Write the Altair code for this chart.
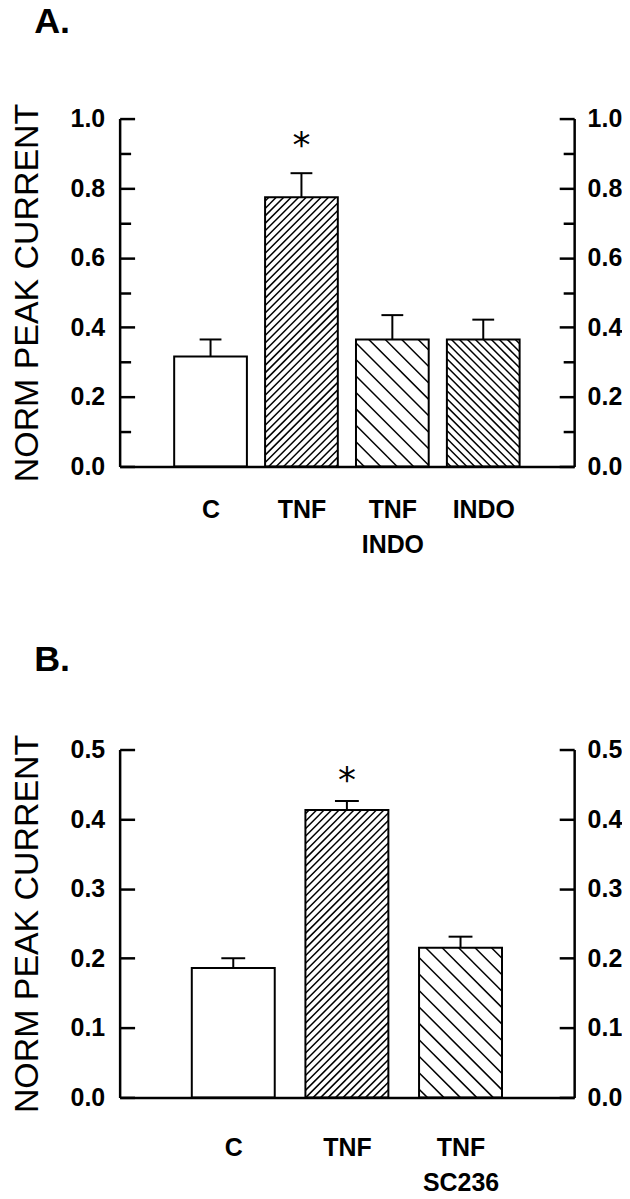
import json
import altair as alt
import pandas as pd

# ---------------- data ----------------
a_labels = ["C", "TNF", "TNF\nINDO", "INDO"]
a_values = [0.316, 0.774, 0.365, 0.365]
a_errors = [0.049, 0.069, 0.070, 0.057]
a_star = [0, 1, 0, 0]
a_hatch = ["none", "fwd_fine", "back_wide", "back_fine"]
a_yticks = [0.0, 0.1, 0.2, 0.3, 0.4, 0.5, 0.6, 0.7, 0.8, 0.9, 1.0]
a_ylabels = [0.0, 0.2, 0.4, 0.6, 0.8, 1.0]

b_labels = ["C", "TNF", "TNF\nSC236"]
b_values = [0.186, 0.413, 0.215]
b_errors = [0.014, 0.013, 0.016]
b_star = [0, 1, 0]
b_hatch = ["none", "fwd_fine", "back_wide"]
b_yticks = [0.0, 0.1, 0.2, 0.3, 0.4, 0.5]
b_ylabels = [0.0, 0.1, 0.2, 0.3, 0.4, 0.5]

y_title = "NORM PEAK CURRENT"

# hatch styles: (direction, horizontal spacing in px)
HATCH = {"none": None, "fwd_fine": (1, 7.5), "back_wide": (-1, 16.5), "back_fine": (-1, 8.0)}

FONT = "Liberation Sans"
W, H = 456, 349


def hatch_df(pos, values, hatches, halfw, xmax, ymax):
    kx = W / xmax
    ky = H / ymax
    rows = []
    for p, v, h in zip(pos, values, hatches):
        spec = HATCH[h]
        if spec is None:
            continue
        d, s = spec
        x0 = (p - halfw) * kx
        x1 = (p + halfw) * kx
        top = v * ky
        if d == 1:
            k = x0 - top + s / 2
            while k < x1:
                ylo = max(0.0, x0 - k)
                yhi = min(top, x1 - k)
                if yhi > ylo:
                    rows.append((k + ylo, ylo, k + yhi, yhi))
                k += s
        else:
            k = x0 + s / 2
            while k < x1 + top:
                ylo = max(0.0, k - x1)
                yhi = min(top, k - x0)
                if yhi > ylo:
                    rows.append((k - ylo, ylo, k - yhi, yhi))
                k += s
    df = pd.DataFrame(rows, columns=["px0", "py0", "px1", "py1"])
    df["hx0"] = df["px0"] / kx
    df["hx1"] = df["px1"] / kx
    df["hy0"] = df["py0"] / ky
    df["hy1"] = df["py1"] / ky
    return df


def panel(labels, values, errors, stars, hatches, yticks, ylabels, ymax, xmax,
          halfw, caphalf, title, title_offset, star_dy, xlabel_pad, minor):
    n = len(labels)
    pos = list(range(1, n + 1))
    df = pd.DataFrame({"pos": pos, "value": values, "err": errors, "star": stars})
    df["top"] = df["value"] + df["err"]
    df["x0"] = df["pos"] - halfw
    df["x1"] = df["pos"] + halfw
    df["c0"] = df["pos"] - caphalf
    df["c1"] = df["pos"] + caphalf
    df["zero"] = 0.0
    hdf = hatch_df(pos, values, hatches, halfw, xmax, ymax)

    xs = alt.Scale(domain=[0, xmax], nice=False, zero=False)
    ys = alt.Scale(domain=[0, ymax], nice=False, zero=True)

    label_expr = json.dumps([l.split("\n") for l in labels]) + "[round(datum.value) - 1]"
    xaxis = alt.Axis(values=pos, labelExpr=label_expr, ticks=False, tickSize=0,
                     domain=True, domainColor="black", domainWidth=2.5,
                     labelFont=FONT, labelFontSize=25, labelFontWeight="bold",
                     labelColor="black", labelPadding=xlabel_pad, labelLineHeight=35,
                     labelOverlap=False, labelFlush=False, labelAngle=0,
                     title=None, grid=False)
    yaxis = alt.Axis(values=ylabels, format=".1f", ticks=False, tickSize=0,
                     domain=True, domainColor="black", domainWidth=2.5,
                     labelFont=FONT, labelFontSize=25, labelFontWeight="bold",
                     labelColor="black", labelPadding=15, labelOverlap=False,
                     labelFlush=False, title=y_title, titleFont=FONT,
                     titleFontSize=34, titleFontWeight="normal", titleColor="black",
                     titlePadding=26, grid=False)
    raxis = alt.Axis(orient="right", values=ylabels, format=".1f", ticks=False,
                     tickSize=0, domain=True, domainColor="black", domainWidth=2.5,
                     labelFont=FONT, labelFontSize=25, labelFontWeight="bold",
                     labelColor="black", labelPadding=13, labelOverlap=False,
                     labelFlush=False, title=None, grid=False)
    if minor:
        tsize = {"condition": {"test": "round(datum.value * 10) % 2 == 0", "value": 15}, "value": 11}
    else:
        tsize = 15
    tick_l = alt.Axis(orient="right", offset=-W, values=yticks, labels=False,
                      domain=False, ticks=True, tickSize=tsize, tickWidth=2.5,
                      tickColor="black", title=None, grid=False)
    tick_r = alt.Axis(orient="left", offset=-W, values=yticks, labels=False,
                      domain=False, ticks=True, tickSize=tsize, tickWidth=2.5,
                      tickColor="black", title=None, grid=False)

    X = lambda f: alt.X(f, scale=xs, axis=xaxis)

    hatch = alt.Chart(hdf).mark_rule(color="black", strokeWidth=1.5).encode(
        x=X("hx0:Q"), x2="hx1:Q",
        y=alt.Y("hy0:Q", scale=ys, axis=yaxis), y2="hy1:Q")
    bars = alt.Chart(df).mark_rect(fill="white", fillOpacity=0, stroke="black",
                                   strokeWidth=2).encode(
        x=X("x0:Q"), x2="x1:Q",
        y=alt.Y("value:Q", scale=ys, axis=yaxis), y2="zero:Q")
    errv = alt.Chart(df).mark_rule(color="black", strokeWidth=2).encode(
        x=X("pos:Q"),
        y=alt.Y("value:Q", scale=ys, axis=yaxis), y2="top:Q")
    errc = alt.Chart(df).mark_rule(color="black", strokeWidth=2).encode(
        x=X("c0:Q"), x2="c1:Q",
        y=alt.Y("top:Q", scale=ys, axis=yaxis))
    star = alt.Chart(df).transform_filter("datum.star == 1").mark_text(
        text="*", font="DejaVu Sans", fontSize=36, color="black",
        baseline="alphabetic", dy=star_dy).encode(
        x=X("pos:Q"),
        y=alt.Y("top:Q", scale=ys, axis=yaxis))
    main = alt.layer(hatch, bars, errv, errc, star)

    right = alt.Chart(df).mark_point(opacity=0).encode(
        x=X("pos:Q"),
        y=alt.Y("value:Q", scale=ys, axis=raxis))
    tl = alt.Chart(df).mark_point(opacity=0).encode(
        x=X("pos:Q"),
        y=alt.Y("value:Q", scale=ys, axis=tick_l))
    tr = alt.Chart(df).mark_point(opacity=0).encode(
        x=X("pos:Q"),
        y=alt.Y("value:Q", scale=ys, axis=tick_r))

    return alt.layer(main, right, tl, tr).resolve_scale(y="independent").properties(
        width=W, height=H,
        title=alt.TitleParams(text=title, anchor="start", frame="bounds",
                              font=FONT, fontSize=36, fontWeight="bold",
                              color="black", offset=title_offset, dx=24,
                              baseline="top"))


pA = panel(a_labels, a_values, a_errors, a_star, a_hatch, a_yticks, a_ylabels,
           1.0, 5.0, 0.4, 0.12, "A.", 63, -16, 31, True)
pB = panel(b_labels, b_values, b_errors, b_star, b_hatch, b_yticks, b_ylabels,
           0.5, 4.0, 0.365, 0.105, "B.", 55, -9, 38, False)

chart = alt.vconcat(pA, pB, spacing=85).properties(
    padding={"left": 2, "top": -7, "right": 0, "bottom": 0},
    background="white").configure_view(stroke=None)

chart.save("out.html", embed_options={"renderer": "svg", "actions": False})
